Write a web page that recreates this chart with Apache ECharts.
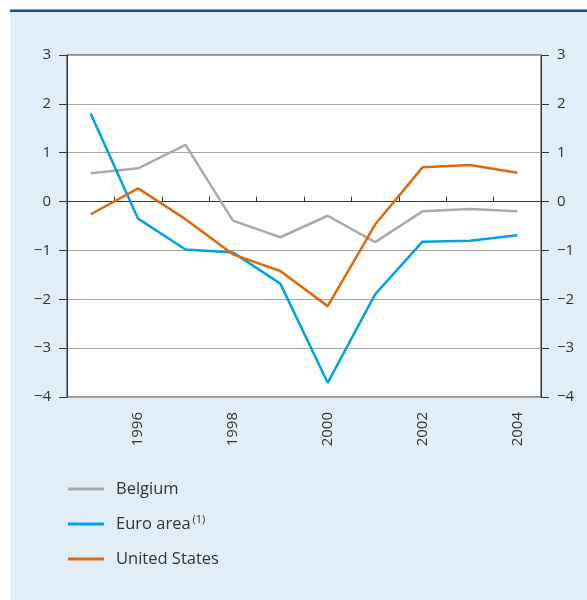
<!DOCTYPE html>
<html>
<head>
<meta charset="utf-8">
<script src="https://cdn.jsdelivr.net/npm/echarts@6/dist/echarts.min.js"></script>
<style>
html,body{margin:0;padding:0;background:#fff;}
#c{width:587px;height:600px;}
</style>
</head>
<body>
<div id="c"></div>
<script>
const years = ['1995','1996','1997','1998','1999','2000','2001','2002','2003','2004'];
const belgium = [0.58, 0.68, 1.16, -0.39, -0.73, -0.29, -0.83, -0.20, -0.15, -0.20];
const euroArea = [1.80, -0.35, -0.98, -1.04, -1.68, -3.71, -1.90, -0.82, -0.80, -0.69];
const unitedStates = [-0.26, 0.27, -0.36, -1.08, -1.42, -2.14, -0.47, 0.70, 0.75, 0.59];
const yTicks = {min: -4, max: 3, interval: 1};

const FONT = '"Open Sans", "Noto Sans", sans-serif';
const TXT = '#333333';
const fmtY = v => String(v).replace('-', '\u2212');

const chart = echarts.init(document.getElementById('c'), null, {renderer: 'canvas'});
chart.setOption({
  animation: false,
  backgroundColor: '#ffffff',
  graphic: [
    {type: 'rect', z: -10, shape: {x: 10, y: 11, width: 577, height: 589}, style: {fill: '#e1eef7'}},
    {type: 'rect', z: -9, shape: {x: 10, y: 9.5, width: 577, height: 2.5}, style: {fill: '#0d4a96'}}
  ],
  grid: {
    left: 67, right: 46, top: 55, bottom: 203,
    show: true, backgroundColor: '#ffffff', borderColor: '#333333', borderWidth: 1
  },
  legend: {
    orient: 'vertical', left: 68, top: 479, padding: 0,
    itemWidth: 36, itemHeight: 3, itemGap: 15,
    icon: 'rect',
    textStyle: {
      color: TXT, fontFamily: FONT, fontSize: 16.5, lineHeight: 20, padding: [0, 0, 0, 7],
      rich: {
        a: {color: TXT, fontFamily: FONT, fontSize: 16.5, lineHeight: 20},
        s: {color: TXT, fontFamily: FONT, fontSize: 11, lineHeight: 20, padding: [0, 0, 9, 2]}
      }
    },
    formatter: n => n === 'Euro area' ? '{a|Euro area}{s|(1)}' : n,
    data: ['Belgium', 'Euro area', 'United States']
  },
  xAxis: {
    type: 'category', data: years, boundaryGap: true,
    axisLine: {show: true, lineStyle: {color: '#333333', width: 1}},
    axisTick: {show: true, inside: true, length: 5, interval: 0, lineStyle: {color: '#333333'}},
    axisLabel: {
      interval: (i) => i % 2 === 1, rotate: 90, margin: 15,
      color: TXT, fontFamily: FONT, fontSize: 15
    },
    splitLine: {show: false}
  },
  yAxis: [
    {
      type: 'value', position: 'left', min: yTicks.min, max: yTicks.max, interval: yTicks.interval,
      axisLine: {show: true, lineStyle: {color: '#333333'}},
      axisTick: {show: true, length: 8, lineStyle: {color: '#333333'}},
      axisLabel: {formatter: fmtY, margin: 16, color: TXT, fontFamily: FONT, fontSize: 15},
      splitLine: {show: true, lineStyle: {color: '#a6a6a6', width: 1}}
    },
    {
      type: 'value', position: 'right', min: yTicks.min, max: yTicks.max, interval: yTicks.interval,
      axisLine: {show: true, lineStyle: {color: '#333333'}},
      axisTick: {show: true, length: 8, lineStyle: {color: '#333333'}},
      axisLabel: {formatter: fmtY, margin: 16, color: TXT, fontFamily: FONT, fontSize: 15},
      splitLine: {show: false}
    }
  ],
  series: [
    {name: 'Belgium', type: 'line', data: belgium, symbol: 'none', lineStyle: {color: '#aaaaaa', width: 2.5}, itemStyle: {color: '#aaaaaa'}, z: 3},
    {name: 'Euro area', type: 'line', data: euroArea, symbol: 'none', lineStyle: {color: '#00a3e6', width: 2.5}, itemStyle: {color: '#00a3e6'}, z: 4},
    {name: 'United States', type: 'line', data: unitedStates, symbol: 'none', lineStyle: {color: '#dd6a0c', width: 2.5}, itemStyle: {color: '#dd6a0c'}, z: 5}
  ]
});
</script>
</body>
</html>
